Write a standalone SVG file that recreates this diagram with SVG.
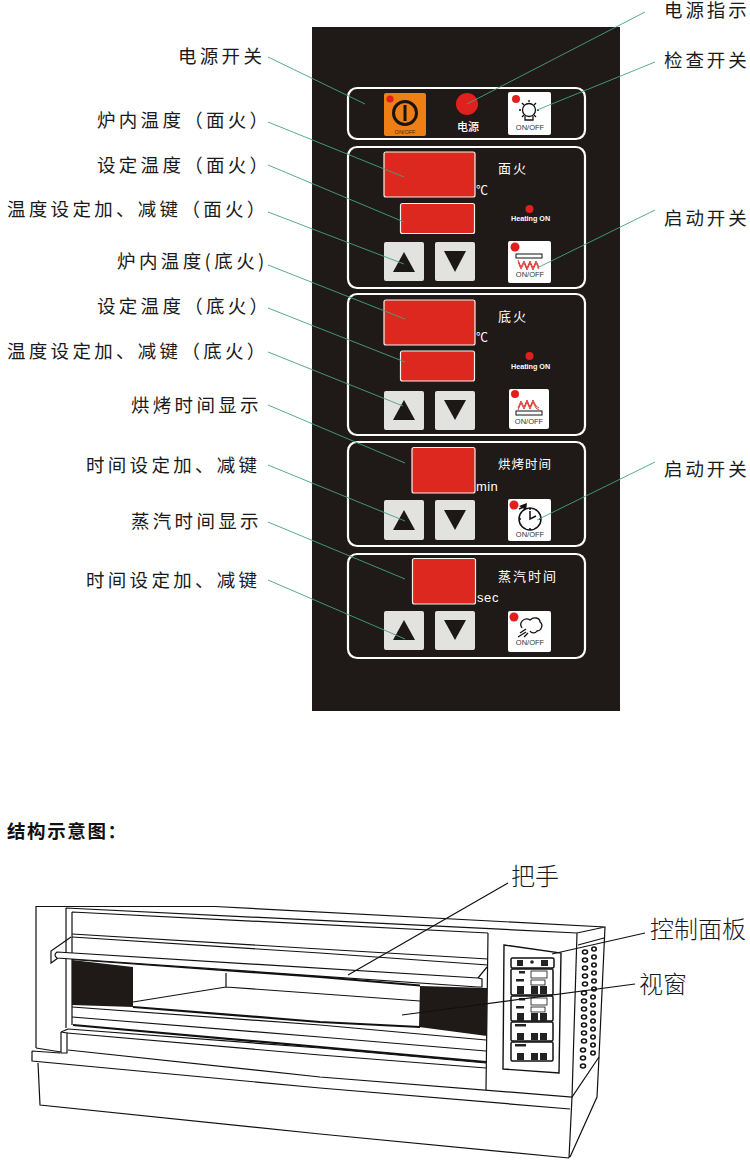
<svg xmlns="http://www.w3.org/2000/svg" width="750" height="1160" viewBox="0 0 750 1160">
<style>
.lb{font-family:"Noto Sans CJK SC","Noto Sans",sans-serif;font-size:18.500px;fill:#1a1a1a;letter-spacing:3.300px}
.rb{letter-spacing:2.900px}
.big{font-family:"Noto Sans CJK SC",sans-serif;font-size:24px;fill:#1a1a1a;font-weight:300}
.w{font-family:"Noto Sans CJK SC",sans-serif;fill:#fff;font-size:13px}
.l{font-family:"Liberation Sans",Arial,sans-serif;fill:#fff}
.c{font-family:"Noto Sans CJK SC",sans-serif;fill:#fff;font-size:12px}
.oo{font-family:"Liberation Sans",Arial,sans-serif;font-size:7.500px;fill:#333;text-anchor:middle}
.sec{fill:none;stroke:#fff;stroke-width:2.2}
.dsp{fill:#dc281e;stroke:#f4f0ee;stroke-width:1.2}
.btn{fill:#e2e2e0}
.tri{fill:#1c1816}
.wb{fill:#fff}
.led{fill:#e0201c}
.gr{fill:none;stroke:#46a282;stroke-width:.9}
.k{fill:none;stroke:#111;stroke-width:1.2}
.k2{fill:none;stroke:#111;stroke-width:2.2}
.vent{fill:#fff;stroke:#111;stroke-width:1.6}
.ms{fill:#fff;stroke:#111;stroke-width:1.5}
.md{fill:#222}
.mw{fill:#fff;stroke:#111;stroke-width:.8}
</style>
<rect width="750" height="1160" fill="#fff"/>
<rect id="panel" x="312" y="27" width="308" height="684" fill="#1f1a18"/>
<g id="section-power">
<rect class="sec" x="348" y="88" width="237" height="51" rx="9"/>
<rect x="384" y="93" width="42" height="43" rx="2" fill="#ee7f14"/>
<circle class="led" cx="390" cy="99" r="3.600"/>
<circle cx="405" cy="113" r="11.500" fill="none" stroke="#1a1410" stroke-width="3"/>
<rect x="403.500" y="105" width="3" height="16" fill="#1a1410"/>
<text x="405" y="134" font-family="Liberation Sans,Arial,sans-serif" font-size="5.500" fill="#4a2a10" text-anchor="middle">ON/OFF</text>
<circle class="led" cx="467" cy="104" r="11"/>
<text class="w" x="457" y="131" style="font-size:11px;font-weight:500">电源</text>
<rect class="wb" x="508" y="92" width="43" height="43" rx="2"/>
<circle class="led" cx="516" cy="99" r="4"/>
<g fill="none" stroke="#111" stroke-width="1.300"><circle cx="529" cy="110" r="6.500"/><path d="M525 116v4h8v-4M529 100v2M519 110h2M537 110h2M522 103l2 2M536 103l-2 2M522 117l2-2M536 117l-2-2"/></g>
<text class="oo" x="530" y="130">ON/OFF</text>
</g>
<g id="section-top">
<rect class="sec" x="348" y="147" width="237" height="141" rx="9"/>
<rect class="dsp" x="384" y="152" width="91" height="45" rx="2"/>
<rect class="dsp" x="400.500" y="203.500" width="74" height="30" rx="2"/>
<text class="c" x="476" y="195">℃</text>
<text class="w" x="498" y="173" style="letter-spacing:2px">面火</text>
<circle class="led" cx="529.500" cy="209" r="4"/>
<text class="l" x="511" y="221" font-size="7.200" font-weight="700">Heating ON</text>
<rect class="btn" x="384" y="242" width="40" height="39" rx="2"/><path class="tri" d="M393 272L404 252L415 272Z"/>
<rect class="btn" x="435" y="242" width="40" height="39" rx="2"/><path class="tri" d="M444 251H466L455 272Z"/>
<rect class="wb" x="508" y="241" width="43" height="42" rx="2"/>
<circle class="led" cx="515" cy="247" r="4.500"/>
<rect x="516" y="254" width="26" height="4" fill="#fff" stroke="#111"/>
<path d="M518 260l3 7 3-6 3 7 3-7 3 7 3-7 3 6M518 262l3 7 3-6 3 7 3-7 3 7 3-7 3 6" fill="none" stroke="#d9241c" stroke-width=".9"/>
<text class="oo" x="530" y="277">ON/OFF</text>
</g>
<g id="section-bottom">
<rect class="sec" x="348" y="294" width="237" height="141" rx="9"/>
<rect class="dsp" x="384" y="300" width="91" height="45" rx="2"/>
<rect class="dsp" x="400.500" y="351" width="74" height="30" rx="2"/>
<text class="c" x="476" y="342">℃</text>
<text class="w" x="498" y="321" style="letter-spacing:2px">底火</text>
<circle class="led" cx="529.500" cy="356" r="4"/>
<text class="l" x="511" y="369" font-size="7.200" font-weight="700">Heating ON</text>
<rect class="btn" x="384" y="391" width="40" height="39" rx="2"/><path class="tri" d="M393 420L404 400L415 420Z"/>
<rect class="btn" x="435" y="391" width="40" height="39" rx="2"/><path class="tri" d="M444 400H466L455 420Z"/>
<rect class="wb" x="509" y="389" width="40" height="40" rx="2"/>
<circle class="led" cx="515" cy="394" r="4"/>
<path d="M518 410l3-7 3 6 3-7 3 7 3-7 3 6 3 2M518 408l3-7 3 6 3-7 3 7 3-7 3 6 3 2" fill="none" stroke="#d9241c" stroke-width=".9"/>
<rect x="516" y="411" width="26" height="4" fill="#fff" stroke="#111"/>
<text class="oo" x="529" y="424">ON/OFF</text>
</g>
<g id="section-bake">
<rect class="sec" x="348" y="442" width="237" height="104" rx="9"/>
<rect class="dsp" x="412" y="447.500" width="63" height="45.500" rx="2"/>
<text class="l" x="476" y="491" font-size="13" letter-spacing=".4">min</text>
<text class="w" x="498" y="469" style="font-size:12.500px;letter-spacing:1px">烘烤时间</text>
<rect class="btn" x="384" y="500" width="40" height="40" rx="2"/><path class="tri" d="M393 530L404 510L415 530Z"/>
<rect class="btn" x="435" y="500" width="40" height="40" rx="2"/><path class="tri" d="M444 510H466L455 530Z"/>
<rect class="wb" x="508" y="499" width="43" height="42" rx="2"/>
<circle class="led" cx="514" cy="505" r="4.500"/>
<g fill="none" stroke="#111" stroke-width="1.500"><circle cx="530" cy="519" r="11"/><path d="M530 511v8l6-3M530 508v2M530 528v2M519 519h2M539 519h2M519 509l7-3"/></g>
<path d="M519 506l8-3-1 7Z" fill="#111"/>
<text class="oo" x="530" y="537">ON/OFF</text>
</g>
<g id="section-steam">
<rect class="sec" x="348" y="554" width="237" height="104" rx="9"/>
<rect class="dsp" x="412.500" y="558.500" width="63" height="45.500" rx="2"/>
<text class="l" x="477" y="602" font-size="13" letter-spacing=".6">sec</text>
<text class="w" x="498" y="581" style="font-size:13px;letter-spacing:2px">蒸汽时间</text>
<rect class="btn" x="384" y="611" width="40" height="39" rx="2"/><path class="tri" d="M393 640L404 620L415 640Z"/>
<rect class="btn" x="435" y="611" width="40" height="39" rx="2"/><path class="tri" d="M444 620H466L455 640Z"/>
<rect class="wb" x="508" y="611" width="43" height="41" rx="2"/>
<circle class="led" cx="514" cy="617" r="4.500"/>
<path d="M522 628c-4-6 3-11 8-8 4-4 10-2 10 2 4 3 1 9-3 9-2 3-6 2-7 0M520 633l6-4M518 637l8-5M524 637l4-4" fill="none" stroke="#111" stroke-width="1.300"/>
<text class="oo" x="530" y="645">ON/OFF</text>
</g>
<g id="connectors">
<path class="gr" d="M268 57L365 104M645 12L467 104M655 62L537 110M268 122L404 177M268 165L404 222M268 212L404 264M655 210L537 268M268 265L405 319M268 308L405 362M268 352L403 406M268 405L405 463M268 465L405 521M655 462L537 520M268 522L405 579M268 580L405 639"/>
</g>
<g id="labels">
<text class="lb" x="178" y="63">电源开关</text>
<text class="lb" x="97" y="127">炉内温度（面火）</text>
<text class="lb" x="97" y="172">设定温度（面火）</text>
<text class="lb" x="7" y="216">温度设定加、减键（面火）</text>
<text class="lb" x="117" y="268" style="letter-spacing:3.400px">炉内温度(底火)</text>
<text class="lb" x="97" y="313">设定温度（底火）</text>
<text class="lb" x="7" y="358">温度设定加、减键（底火）</text>
<text class="lb" x="131" y="412">烘烤时间显示</text>
<text class="lb" x="86" y="472">时间设定加、减键</text>
<text class="lb" x="131" y="528">蒸汽时间显示</text>
<text class="lb" x="86" y="587">时间设定加、减键</text>
<text class="lb rb" x="664" y="17">电源指示</text>
<text class="lb rb" x="664" y="67">检查开关</text>
<text class="lb rb" x="664" y="225">启动开关</text>
<text class="lb rb" x="664" y="476">启动开关</text>
<text x="7" y="838" font-family="Noto Sans CJK SC,sans-serif" font-size="18.500" font-weight="700" letter-spacing="1.600" fill="#111">结构示意图：</text>
<text class="big" x="511" y="885">把手</text>
<text class="big" x="650" y="938">控制面板</text>
<text class="big" x="639" y="993">视窗</text>
</g>
<g id="oven">
<path class="k" d="M36 1048V906.500H215L605 927L599 1057L597 1097L570 1157M66 908L577 933L605 927M72 912L488 933M66 908V1028M72 912V1025M578 945L604 938M577 933L572 1097L569 1158M488 933L486 1090"/>
<path d="M72 960L133 967V1007L72 1005Z" fill="#1f1a18"/>
<path d="M420 986L487 988V1036L419 1027Z" fill="#1f1a18"/>
<path class="k2" d="M72 959L320 977L420 985.500M133 1007L320 1022L420 1027"/>
<path class="k" d="M72 934L320 949L488 959M72 937L320 953L488 965M71 937L51 951V963L58 958M478 978L487 967"/>
<path d="M57 952L478 978L482 979V987L478 987L57 958Q53 955 57 952Z" fill="#fff" stroke="#111" stroke-width="1.200"/>
<path class="k" d="M226 973V987M133 1002L226 987L420 1001M72 1007L320 1025L486 1040M72 1017L320 1037L486 1051M68 1029L320 1048L486 1063M67 1033L320 1055L486 1068"/>
<path class="k2" d="M73 1025L320 1047L486 1062"/>
<path class="k" d="M61 1032V1053L67 1053V1033L61 1032M61 1032L68 1029M36 1048L61 1052M32 1051L60 1053M32 1051V1061L320 1088L570 1109M68 1050L320 1077L572 1097L599 1057M38 1063L40 1105L320 1134L569 1158"/>
<path class="k2" d="M504 945L561 953L559 1073L503 1069Z" style="stroke-width:1.400"/>
<g id="mini-panel">
<rect class="ms" x="511" y="958" width="43" height="10" rx="1.500"/>
<rect class="ms" x="511" y="969" width="42" height="26" rx="1.500"/>
<rect class="ms" x="511" y="996" width="42" height="25" rx="1.500"/>
<rect class="ms" x="511" y="1022" width="42" height="19" rx="1.500"/>
<rect class="ms" x="511" y="1042" width="42" height="19" rx="1.500"/>
<rect class="md" x="517" y="960" width="6" height="6"/><circle class="md" cx="532" cy="962" r="1.800"/><rect class="md" x="541" y="960" width="7" height="6"/>
<rect class="mw" x="531" y="971" width="16" height="7"/><rect class="mw" x="531" y="980" width="14" height="5"/>
<rect class="md" x="517" y="986" width="7" height="8"/><rect class="md" x="531" y="986" width="7" height="8"/><rect class="md" x="540" y="986" width="7" height="8"/><rect class="md" x="519" y="971" width="6" height="2.500"/><rect class="md" x="516" y="979" width="8" height="2.500"/>
<rect class="mw" x="531" y="998" width="16" height="7"/><rect class="mw" x="531" y="1007" width="14" height="5"/>
<rect class="md" x="517" y="1013" width="7" height="8"/><rect class="md" x="531" y="1013" width="7" height="8"/><rect class="md" x="540" y="1013" width="7" height="8"/><rect class="md" x="519" y="998" width="6" height="2.500"/><rect class="md" x="516" y="1006" width="8" height="2.500"/>
<rect class="md" x="517" y="1033" width="7" height="7"/><rect class="md" x="531" y="1033" width="7" height="7"/><rect class="md" x="540" y="1033" width="7" height="7"/><rect class="md" x="515" y="1024" width="11" height="2.500"/>
<rect class="md" x="517" y="1053" width="7" height="7"/><rect class="md" x="531" y="1053" width="7" height="7"/><rect class="md" x="540" y="1053" width="7" height="7"/><rect class="md" x="515" y="1044" width="11" height="2.500"/>
</g>
<g id="vents">
<ellipse class="vent" cx="585" cy="952" rx="2.500" ry="2"/><ellipse class="vent" cx="585" cy="960" rx="2.500" ry="2"/><ellipse class="vent" cx="585" cy="968" rx="2.500" ry="2"/><ellipse class="vent" cx="585" cy="976" rx="2.500" ry="2"/><ellipse class="vent" cx="585" cy="984" rx="2.500" ry="2"/><ellipse class="vent" cx="584" cy="993" rx="2.500" ry="2"/><ellipse class="vent" cx="584" cy="1001" rx="2.500" ry="2"/><ellipse class="vent" cx="584" cy="1009" rx="2.500" ry="2"/><ellipse class="vent" cx="584" cy="1017" rx="2.500" ry="2"/><ellipse class="vent" cx="584" cy="1025" rx="2.500" ry="2"/><ellipse class="vent" cx="584" cy="1033" rx="2.500" ry="2"/><ellipse class="vent" cx="584" cy="1041" rx="2.500" ry="2"/><ellipse class="vent" cx="583" cy="1050" rx="2.500" ry="2"/><ellipse class="vent" cx="583" cy="1058" rx="2.500" ry="2"/><ellipse class="vent" cx="583" cy="1066" rx="2.500" ry="2"/>
<ellipse class="vent" cx="594" cy="949" rx="2.200" ry="2"/><ellipse class="vent" cx="594" cy="957" rx="2.200" ry="2"/><ellipse class="vent" cx="594" cy="965" rx="2.200" ry="2"/><ellipse class="vent" cx="594" cy="973" rx="2.200" ry="2"/><ellipse class="vent" cx="594" cy="981" rx="2.200" ry="2"/><ellipse class="vent" cx="594" cy="989" rx="2.200" ry="2"/><ellipse class="vent" cx="593" cy="997" rx="2.200" ry="2"/><ellipse class="vent" cx="593" cy="1005" rx="2.200" ry="2"/><ellipse class="vent" cx="593" cy="1013" rx="2.200" ry="2"/><ellipse class="vent" cx="593" cy="1021" rx="2.200" ry="2"/><ellipse class="vent" cx="593" cy="1029" rx="2.200" ry="2"/><ellipse class="vent" cx="593" cy="1037" rx="2.200" ry="2"/><ellipse class="vent" cx="593" cy="1045" rx="2.200" ry="2"/><ellipse class="vent" cx="593" cy="1053" rx="2.200" ry="2"/>
</g>
</g>
<g id="oven-connectors">
<path class="k" d="M508 883L348 975M645 933L552 954M635 984L402 1015"/>
</g>
</svg>
